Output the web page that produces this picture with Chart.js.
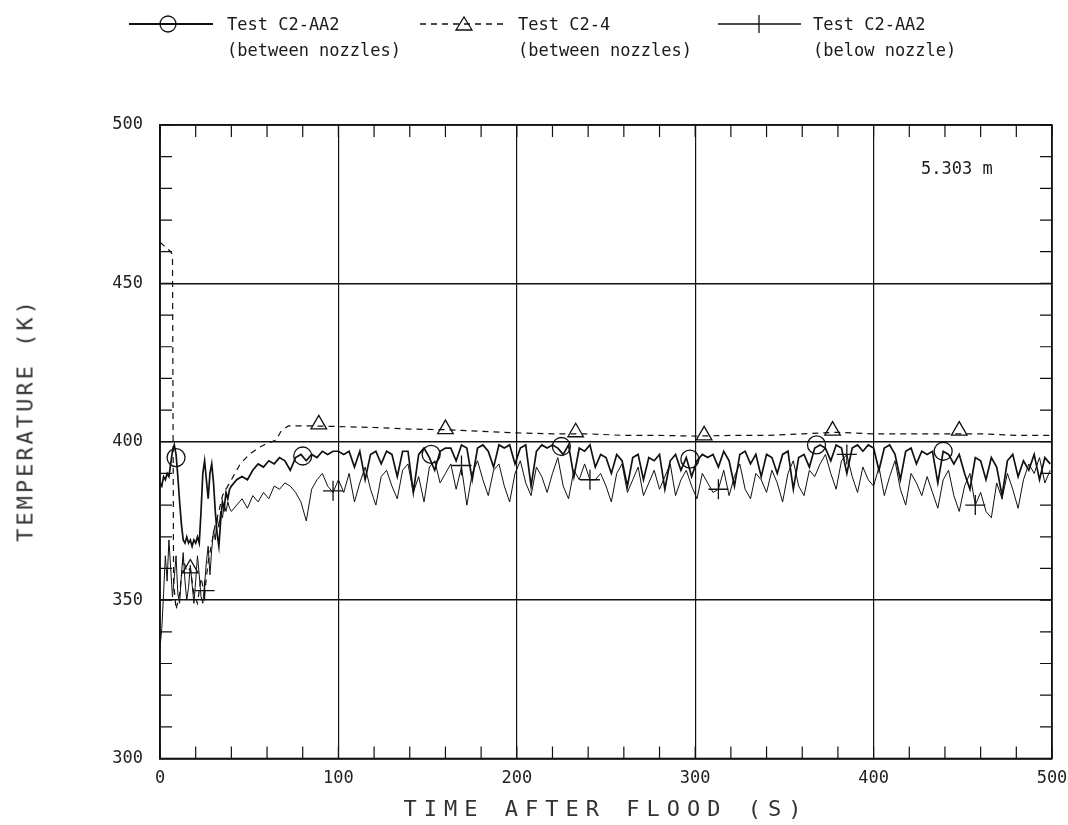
<!DOCTYPE html>
<html><head><meta charset="utf-8">
<script src="https://cdn.jsdelivr.net/npm/chart.js@4.4.1/dist/chart.umd.min.js"></script>
<style>
html,body{margin:0;padding:0;background:#fff;}
#wrap{position:relative;width:1068px;height:825px;overflow:hidden;background:#fff;}
#c{position:absolute;left:0;top:0;}
.t{position:absolute;font-family:"DejaVu Sans Mono",monospace;color:#1a1a1a;white-space:pre;}
.leg{font-size:17px;line-height:26px;}
svg{position:absolute;overflow:visible;}
</style></head><body>
<div id="wrap">
<canvas id="c" width="1068" height="825"></canvas>

<svg style="left:0;top:0" width="1068" height="70">
  <g stroke="#111" fill="none">
    <line x1="129" y1="24" x2="213" y2="24" stroke-width="1.8"/>
    <circle cx="168" cy="24" r="8" stroke-width="1.3"/>
    <line x1="420" y1="24" x2="507" y2="24" stroke-width="1.3" stroke-dasharray="6,5"/>
    <path d="M456 30 L472 30 L464 17 Z" stroke-width="1.3"/>
    <line x1="718" y1="24" x2="801" y2="24" stroke-width="1.3"/>
    <line x1="759" y1="15" x2="759" y2="33" stroke-width="1.3"/>
  </g>
</svg>
<div class="t leg" style="left:227px;top:11px;">Test C2-AA2
(between nozzles)</div>
<div class="t leg" style="left:518px;top:11px;">Test C2-4
(between nozzles)</div>
<div class="t leg" style="left:813px;top:11px;">Test C2-AA2
(below nozzle)</div>

<div class="t" style="left:921px;top:158px;font-size:17px;">5.303 m</div>
<div class="t" style="left:606px;top:808px;transform:translate(-50%,-50%);font-size:22px;letter-spacing:7px;color:#333;">TIME AFTER FLOOD (S)</div>
<div class="t" style="left:25px;top:420px;transform:translate(-50%,-50%) rotate(-90deg);font-size:22px;letter-spacing:3px;color:#333;">TEMPERATURE (K)</div>
</div>

<script>
// ---------------- data ----------------
const xTicks = [0, 100, 200, 300, 400, 500];
const yTicks = [300, 350, 400, 450, 500];

// sampling times (s) of the two noisy C2-AA2 traces
const sampleTimes = [
  0,1,2,3,4,5,6,7,8,9,10,11,12,13,14,15,16,17,18,19,
  20,21,22,23,24,25,26,27,28,29,30,31,32,33,34,35,36,37,38,39,
  40,43,46,49,52,55,58,61,64,67,
  70,73,76,79,82,85,88,91,94,97,
  100,103,106,109,112,115,118,121,124,127,
  130,133,136,139,142,145,148,151,154,157,
  160,163,166,169,172,175,178,181,184,187,
  190,193,196,199,202,205,208,211,214,217,
  220,223,226,229,232,235,238,241,244,247,
  250,253,256,259,262,265,268,271,274,277,
  280,283,286,289,292,295,298,301,304,307,
  310,313,316,319,322,325,328,331,334,337,
  340,343,346,349,352,355,358,361,364,367,
  370,373,376,379,382,385,388,391,394,397,
  400,403,406,409,412,415,418,421,424,427,
  430,433,436,439,442,445,448,451,454,457,
  460,463,466,469,472,475,478,481,484,487,
  490,493,496,499
];

// Test C2-AA2, between nozzles (K)
const aa2Between = [
  387,386,389,388,390,389,393,397,399,396,389,381,374,369,368,370,368,369,367,369,
  368,370,368,378,390,394,388,382,390,393,387,378,371,367,375,381,379,384,382,385,
  386,388,389,388,391,393,392,394,393,395,
  394,391,395,396,394,396,395,397,396,397,
  397,396,397,392,397,388,396,397,393,397,
  396,389,397,397,384,396,398,395,391,397,
  398,398,394,399,398,388,398,399,397,392,
  399,398,399,393,398,399,386,397,399,398,
  399,398,396,399,389,398,397,399,392,396,
  395,390,396,394,386,395,396,388,395,394,
  396,385,394,396,391,395,389,394,396,395,
  396,392,397,394,386,396,397,393,396,389,
  396,395,390,396,397,385,395,396,392,398,
  399,398,394,399,398,390,398,399,397,399,
  398,391,398,399,396,388,397,398,393,397,
  396,397,387,397,396,393,396,390,385,395,
  394,388,395,392,383,394,396,389,394,391,
  396,388,395,393
];

// Test C2-AA2, below nozzle (K)
const aa2Below = [
  335,341,352,364,356,369,360,351,357,364,352,349,358,365,356,350,354,361,355,349,
  356,364,358,351,349,355,362,367,358,366,372,369,376,373,378,376,380,378,381,379,
  378,380,382,379,383,381,384,382,386,385,
  387,386,384,381,375,385,388,390,386,384,
  388,384,390,381,387,392,385,380,389,391,
  386,382,391,393,384,389,381,392,394,387,
  390,393,385,392,380,390,394,388,383,391,
  393,386,381,390,394,387,383,392,389,384,
  390,395,386,382,391,388,393,388,388,390,
  386,381,390,393,384,388,392,383,387,391,
  385,389,393,383,388,391,386,382,390,387,
  384,385,391,383,389,393,385,382,390,388,
  384,391,387,381,390,394,386,383,391,389,
  393,396,390,385,394,396,389,384,392,388,
  386,392,383,389,394,385,380,390,387,383,
  389,384,379,388,391,383,378,386,390,380,
  384,378,376,387,382,390,385,379,388,393,
  390,395,387,391
];

// Test C2-4, between nozzles
const c24Times = [0,2,4,6,7,7.3,7.6,9,11,13,15,17,19,21,23,25,27,29,31,33,35,38,41,45,50,55,60,65,68,72,85,100,120,140,160,180,200,220,240,260,280,300,320,340,360,380,400,420,440,460,480,500];
const c24Temps = [463,462,461,460,459,410,356,347,352,363,359,360,352,349,357,352,362,368,374,378,383,386,389,393,396,398,399.5,400.5,403.5,405,405,404.8,404.5,404,403.8,403.3,402.8,402.5,402.5,402,402,401.8,402,402,402.5,403,402.5,402.5,402.5,402.5,402,402];

// symbol positions
const aa2BetweenMarkT = [9, 80, 152, 225, 297, 368, 439];
const aa2BetweenMarkV = [395, 395.5, 396, 398.5, 394.5, 399, 397];
const c24MarkT = [17, 89, 160, 233, 305, 377, 448];
const c24MarkV = [360, 405.5, 404, 403, 402, 403.5, 403.5];
const aa2BelowMarkT = [25, 97, 169, 241, 313, 385, 457];
const aa2BelowMarkV = [353, 384.5, 392.5, 388, 385, 396, 380];

// ---------------- chart ----------------
const pts = (xs, ys) => xs.map((x, i) => ({x, y: ys[i]}));
const INK = '#111';

const framePlugin = {
  id: 'frame',
  afterDraw(chart) {
    const {ctx, chartArea: a, scales: {x, y}} = chart;
    ctx.save();
    ctx.strokeStyle = INK;
    ctx.lineWidth = 1.6;
    ctx.strokeRect(a.left, a.top, a.right - a.left, a.bottom - a.top);
    ctx.lineWidth = 1.2;
    ctx.beginPath();
    for (let v = 0; v <= 500; v += 20) {
      const p = x.getPixelForValue(v);
      ctx.moveTo(p, a.bottom); ctx.lineTo(p, a.bottom - 12);
      ctx.moveTo(p, a.top); ctx.lineTo(p, a.top + 12);
    }
    for (let v = 300; v <= 500; v += 10) {
      const p = y.getPixelForValue(v);
      ctx.moveTo(a.left, p); ctx.lineTo(a.left + 12, p);
      ctx.moveTo(a.right, p); ctx.lineTo(a.right - 12, p);
    }
    ctx.stroke();
    ctx.restore();
  }
};

const tickFont = {family: 'DejaVu Sans Mono', size: 17};

new Chart(document.getElementById('c'), {
  type: 'line',
  data: {
    datasets: [
      {data: pts(c24Times, c24Temps), borderColor: INK, borderWidth: 1.2, borderDash: [6, 5], pointRadius: 0, tension: 0},
      {data: pts(sampleTimes, aa2Below), borderColor: INK, borderWidth: 1.0, pointRadius: 0, tension: 0},
      {data: pts(sampleTimes, aa2Between), borderColor: INK, borderWidth: 1.7, pointRadius: 0, tension: 0},
      {data: pts(aa2BetweenMarkT, aa2BetweenMarkV), showLine: false, pointStyle: 'circle', pointRadius: 9, borderColor: INK, borderWidth: 1.3, backgroundColor: 'rgba(0,0,0,0)'},
      {data: pts(c24MarkT, c24MarkV), showLine: false, pointStyle: 'triangle', pointRadius: 9, borderColor: INK, borderWidth: 1.3, backgroundColor: 'rgba(0,0,0,0)'},
      {data: pts(aa2BelowMarkT, aa2BelowMarkV), showLine: false, pointStyle: 'cross', pointRadius: 10, borderColor: INK, borderWidth: 1.3, backgroundColor: 'rgba(0,0,0,0)'}
    ]
  },
  options: {
    responsive: false,
    animation: false,
    events: [],
    layout: {padding: {top: 125, right: 16, left: 0, bottom: 0}},
    plugins: {legend: {display: false}, tooltip: {enabled: false}},
    scales: {
      x: {
        type: 'linear', min: 0, max: 500,
        afterBuildTicks: s => { s.ticks = xTicks.map(v => ({value: v})); },
        afterFit: s => { s.height = 66.5; s.paddingRight = 0; s.paddingLeft = 0; },
        grid: {color: INK, lineWidth: 1.2, drawTicks: false},
        border: {color: INK, width: 1.6},
        ticks: {font: tickFont, color: '#222', padding: 10, maxRotation: 0}
      },
      y: {
        type: 'linear', min: 300, max: 500,
        afterBuildTicks: s => { s.ticks = yTicks.map(v => ({value: v})); },
        afterFit: s => { s.width = 160; s.paddingTop = 0; s.paddingBottom = 0; },
        grid: {color: INK, lineWidth: 1.4, drawTicks: false},
        border: {color: INK, width: 1.6},
        ticks: {font: tickFont, color: '#222', padding: 17}
      }
    }
  },
  plugins: [framePlugin]
});
</script>
</body></html>
